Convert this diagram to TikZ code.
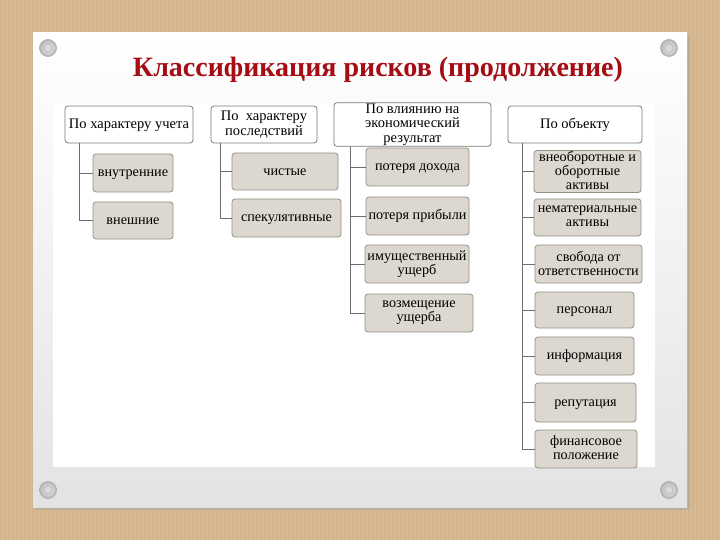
\documentclass[tikz,border=0pt]{standalone}
\usepackage{fontspec}
\setmainfont{Liberation Serif}
\definecolor{tan}{RGB}{216,186,146}
\definecolor{tanstripe}{RGB}{204,172,132}
\definecolor{titlered}{RGB}{165,12,20}
\definecolor{childfill}{RGB}{221,216,207}
\definecolor{childdraw}{RGB}{150,143,132}
\definecolor{hdrdraw}{RGB}{120,120,120}
\definecolor{linecol}{RGB}{110,110,110}
\newcommand{\toprule}{\rule{0pt}{11pt}}
\newcommand{\botrule}{\rule[-2pt]{0pt}{2pt}}
\tikzset{
  hdr/.style={draw=hdrdraw, fill=white, rounded corners=3, line width=0.8, inner sep=1,
    align=center, font=\fontsize{14.5}{14.5}\selectfont,
    execute at begin node=\toprule, execute at end node=\botrule},
  child/.style={draw=childdraw, fill=childfill, rounded corners=3, line width=0.8, inner sep=1,
    align=center, font=\fontsize{14.2}{14}\selectfont,
    execute at begin node=\toprule, execute at end node=\botrule},
  conn/.style={draw=linecol, line width=0.7},
  pin/.style={circle, minimum size=17, inner sep=0, draw=gray!70, line width=0.6,
    inner color=gray!15, outer color=gray!55},
}
\begin{document}
\begin{tikzpicture}[x=1pt,y=-1pt]
\useasboundingbox (0,0) rectangle (720,540);
% background
\fill[tan] (0,0) rectangle (720,540);
\foreach \i in {0,4,...,716} {\fill[tanstripe, opacity=0.45] (\i,0) rectangle (\i+1.6,540);}
% paper shadow and paper
\fill[black!35, opacity=0.5] (35,36) rectangle (690,510);
\shade[top color=white, bottom color=black!11] (33,33) rectangle (687,507);
\fill[white] (53,103) rectangle (655,467);
% pins
\node[pin] (p1) at (48,48) {};
\node[pin] (p2) at (669,48) {};
\node[pin] (p3) at (48,490) {};
\node[pin] (p4) at (669,490) {};
\foreach \p in {p1,p2,p3,p4} {\draw[gray!60, fill=gray!30] (\p) circle (4);}
% title
\node[text=titlered, font=\fontsize{28}{30}\selectfont\bfseries] (title) at (378,70) {Классификация рисков (продолжение)};
% headers
\node[hdr, minimum width=128, minimum height=37] (h1) at (129,124.5) {По характеру учета};
\node[hdr, minimum width=106, minimum height=37] (h2) at (264,124.5) {По \ характеру\\последствий};
\node[hdr, minimum width=157, minimum height=37] (h3) at (412.5,124.5) {По влиянию на\\экономический\\результат};
\node[hdr, minimum width=134, minimum height=37] (h4) at (575,124.5) {По объекту};
% column 1
\node[child, minimum width=80, minimum height=38] (a1) at (133,173) {внутренние};
\node[child, minimum width=80, minimum height=37] (a2) at (133,220.5) {внешние};
% column 2
\node[child, minimum width=106, minimum height=37] (b1) at (285,171.5) {чистые};
\node[child, minimum width=109, minimum height=38] (b2) at (286.5,218) {спекулятивные};
% column 3
\node[child, minimum width=103, minimum height=38] (c1) at (417.5,167) {потеря дохода};
\node[child, minimum width=103, minimum height=38] (c2) at (417.5,216) {потеря прибыли};
\node[child, minimum width=104, minimum height=38] (c3) at (417,264) {имущественный\\ущерб};
\node[child, minimum width=108, minimum height=38] (c4) at (419,313) {возмещение\\ущерба};
% column 4
\node[child, minimum width=107, minimum height=37] (d1) at (587.5,171.5) {внеоборотные и\\оборотные\\активы};
\node[child, minimum width=107, minimum height=37] (d2) at (587.5,217.5) {нематериальные\\активы};
\node[child, minimum width=107, minimum height=38] (d3) at (588.5,264) {свобода от\\ответственности};
\node[child, minimum width=99, minimum height=36] (d4) at (584.5,310) {персонал};
\node[child, minimum width=99, minimum height=38] (d5) at (584.5,356) {информация};
\node[child, minimum width=101, minimum height=39] (d6) at (585.5,402.5) {репутация};
\node[child, minimum width=102, minimum height=38] (d7) at (586,449) {финансовое\\положение};
% connectors
\foreach \c in {a1,a2} {\draw[conn] ([xshift=15]h1.south west) |- (\c.west);}
\foreach \c in {b1,b2} {\draw[conn] ([xshift=10]h2.south west) |- (\c.west);}
\foreach \c in {c1,c2,c3,c4} {\draw[conn] ([xshift=17]h3.south west) |- (\c.west);}
\foreach \c in {d1,d2,d3,d4,d5,d6,d7} {\draw[conn] ([xshift=15]h4.south west) |- (\c.west);}
\end{tikzpicture}
\end{document}
